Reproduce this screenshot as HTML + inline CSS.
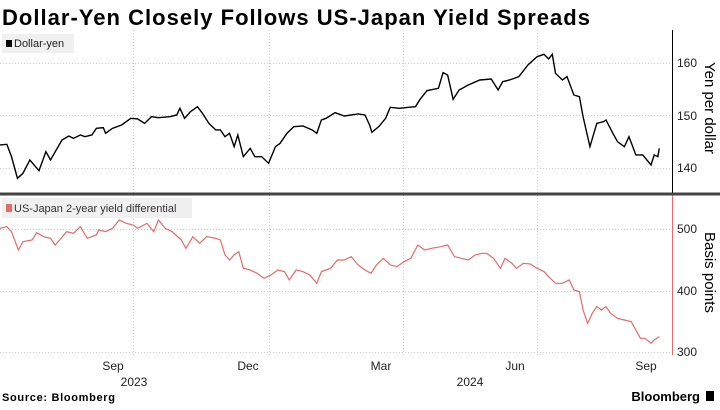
<!DOCTYPE html>
<html><head><meta charset="utf-8"><style>
body{margin:0;background:#fff;width:720px;height:405px;overflow:hidden;font-family:"Liberation Sans",sans-serif}
</style></head><body>
<svg width="720" height="405" xmlns="http://www.w3.org/2000/svg" font-family="Liberation Sans, sans-serif">
<text x="2" y="25" font-size="22" font-weight="bold" fill="#000" textLength="588" lengthAdjust="spacing">Dollar-Yen Closely Follows US-Japan Yield Spreads</text>
<g stroke="#ccc" stroke-dasharray="1,2" stroke-width="1">
<line x1="0" x2="672" y1="63.5" y2="63.5"/><line x1="0" x2="672" y1="115.5" y2="115.5"/><line x1="0" x2="672" y1="168.5" y2="168.5"/>
<line x1="0" x2="672" y1="229.5" y2="229.5"/><line x1="0" x2="672" y1="291.5" y2="291.5"/><line x1="0" x2="672" y1="352.5" y2="352.5"/>
<line x1="133.5" x2="133.5" y1="30" y2="356"/><line x1="269.5" x2="269.5" y1="30" y2="356"/><line x1="403.5" x2="403.5" y1="30" y2="356"/><line x1="537.5" x2="537.5" y1="30" y2="356"/>
</g>
<rect x="2" y="34" width="72" height="19" fill="#f0f0f0"/>
<rect x="6" y="40" width="6" height="7" fill="#000"/>
<text x="14" y="47" font-size="11" fill="#222">Dollar-yen</text>
<rect x="2" y="198" width="190" height="20" fill="#f0f0f0"/>
<rect x="6" y="204" width="6" height="8" fill="#e86a6a"/>
<text x="14" y="212" font-size="11" fill="#333">US-Japan 2-year yield differential</text>
<line x1="672.5" x2="672.5" y1="30" y2="194" stroke="#000"/>
<line x1="672.5" x2="672.5" y1="195" y2="355" stroke="#e86a6a"/>
<line x1="0" x2="720" y1="194" y2="194" stroke="#444" stroke-width="3"/>
<g font-size="12" fill="#222">
<text x="677" y="67">160</text><text x="677" y="120">150</text><text x="677" y="172">140</text>
<text x="677" y="233">500</text><text x="677" y="295">400</text><text x="677" y="356">300</text>
</g>
<text transform="translate(705,62) rotate(90)" font-size="15" fill="#000">Yen per dollar</text>
<text transform="translate(705,232) rotate(90)" font-size="15" fill="#000">Basis points</text>
<g font-size="12" fill="#222" text-anchor="middle">
<text x="113" y="370">Sep</text><text x="248" y="370">Dec</text><text x="381" y="370">Mar</text><text x="515" y="370">Jun</text><text x="646" y="370">Sep</text>
<text x="134" y="386">2023</text><text x="470" y="386">2024</text>
</g>
<text x="2" y="401" font-size="11" font-weight="bold" fill="#000" textLength="113" lengthAdjust="spacing">Source: Bloomberg</text>
<text x="700" y="401" font-size="13" font-weight="bold" fill="#000" text-anchor="end">Bloomberg</text>
<rect x="706" y="391" width="8" height="10" fill="#000"/>
<g transform="scale(0.4591,0.3333)">
<polyline fill="none" stroke="#000" stroke-width="1.4" vector-effect="non-scaling-stroke" points="0,435 15,433 25,470 38,535 50,520 65,480 85,512 100,455 110,480 135,420 150,408 160,415 175,405 185,410 200,405 210,385 225,383 230,400 245,385 265,375 285,355 300,357 315,370 330,350 345,353 370,350 385,345 392,325 402,355 415,335 430,320 440,338 455,370 470,390 480,390 490,410 500,400 510,440 518,405 530,470 545,445 555,470 570,470 585,490 600,440 610,430 625,400 640,380 660,378 680,390 690,400 700,360 710,355 730,338 750,348 780,342 795,345 805,375 810,397 825,380 840,355 850,322 870,325 890,322 905,320 915,298 930,272 955,265 965,218 975,225 987,298 1000,270 1020,255 1045,240 1070,237 1085,270 1095,245 1110,240 1130,230 1150,195 1170,170 1185,163 1195,177 1203,163 1210,220 1225,240 1235,230 1250,285 1262,290 1270,350 1285,440 1300,370 1315,365 1320,360 1335,400 1345,425 1360,440 1370,410 1385,465 1400,465 1418,495 1425,465 1433,470 1436,445"/>
</g>
<g transform="translate(0,190) scale(0.4591,0.3333)">
<polyline fill="none" stroke="#e86a6a" stroke-width="1.2" vector-effect="non-scaling-stroke" points="0,115 15,110 25,125 40,180 50,155 70,150 80,128 95,140 110,145 120,165 130,150 145,125 160,130 175,110 190,145 210,135 215,120 230,125 245,115 260,90 275,100 290,105 300,115 320,100 335,125 345,90 360,115 375,125 395,150 405,175 420,140 435,160 450,140 470,145 480,150 490,195 500,210 510,195 520,185 530,235 545,240 560,250 575,265 590,255 605,240 620,245 630,270 645,240 660,245 675,255 690,280 700,245 720,235 735,210 750,210 765,200 780,225 795,240 808,250 820,225 835,205 850,225 865,230 880,215 895,205 910,165 925,180 940,175 960,170 975,165 990,200 1005,205 1020,210 1035,195 1050,190 1060,190 1075,205 1090,235 1100,205 1115,220 1125,235 1140,220 1155,222 1170,235 1185,245 1195,260 1210,280 1225,280 1240,270 1250,300 1262,305 1270,360 1280,400 1290,370 1300,350 1310,360 1320,350 1330,370 1345,385 1360,390 1375,395 1385,420 1395,445 1405,445 1418,460 1425,450 1436,440"/>
</g>
</svg>
</body></html>
